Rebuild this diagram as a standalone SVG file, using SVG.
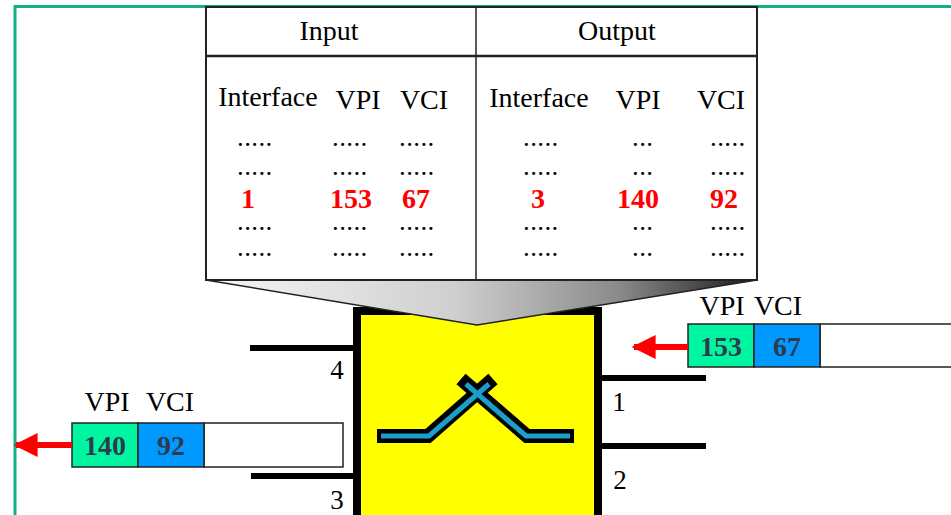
<svg xmlns="http://www.w3.org/2000/svg" width="951" height="515" viewBox="0 0 951 515">
<style>
.t{font-family:"Liberation Serif","Times New Roman",serif;fill:#000}
.h{font-size:28px}
.d{font-size:19px;font-weight:bold;letter-spacing:2.4px}
.r{font-size:28px;font-weight:bold;fill:#ff0000}
.c{font-size:28px;font-weight:bold;fill:#2e3b4e}
.p{font-size:27px}
.port{stroke:#000;stroke-width:6}
</style>
<defs>
<linearGradient id="fg" x1="0" y1="0" x2="1" y2="0">
<stop offset="0" stop-color="#f6f6f6"/>
<stop offset="0.45" stop-color="#cfcfcf"/>
<stop offset="0.75" stop-color="#8a8a8a"/>
<stop offset="1" stop-color="#1a1a1a"/>
</linearGradient>
<marker id="ah" viewBox="0 0 10 10" refX="9" refY="5" markerWidth="4" markerHeight="4.5" orient="auto-start-reverse" markerUnits="strokeWidth">
<path d="M0,0 L10,5 L0,10 z" fill="#ff0000"/>
</marker>
</defs>
<rect width="951" height="515" fill="#fff"/>
<path d="M15,515 V6.5 H951" fill="none" stroke="#10b088" stroke-width="3"/>

<g id="switch">
<rect x="357" y="311" width="241" height="212" fill="#ffff00" stroke="#000" stroke-width="8"/>
<g fill="none" stroke-linejoin="miter" stroke-linecap="butt">
<polyline points="377,436 428,436 493,379" stroke="#000" stroke-width="14"/>
<polyline points="574,436 527,436 461,379" stroke="#000" stroke-width="14"/>
<polyline points="381,436 429,436 489,384" stroke="#1a9fc8" stroke-width="5"/>
<polyline points="570,436 526,436 466,384" stroke="#1a9fc8" stroke-width="5"/>
</g>
</g>

<g id="table">
<polygon points="206,280 757,280 477,325" fill="url(#fg)" stroke="#222" stroke-width="1.5" stroke-linejoin="round"/>
<rect x="206" y="7" width="551" height="273" fill="#fff" stroke="#222" stroke-width="2"/>
<line x1="206" y1="56" x2="757" y2="56" stroke="#222" stroke-width="2.5"/>
<line x1="476" y1="7" x2="476" y2="280" stroke="#222" stroke-width="1.5"/>
<text class="t h" x="329" y="40" text-anchor="middle">Input</text>
<text class="t h" x="617" y="40" text-anchor="middle">Output</text>
<text class="t h" x="268" y="106" text-anchor="middle">Interface</text>
<text class="t h" x="358" y="109" text-anchor="middle">VPI</text>
<text class="t h" x="424" y="109" text-anchor="middle">VCI</text>
<text class="t h" x="539" y="107" text-anchor="middle">Interface</text>
<text class="t h" x="638" y="109" text-anchor="middle">VPI</text>
<text class="t h" x="721" y="109" text-anchor="middle">VCI</text>
<g class="t d">
<text x="238" y="146">.....</text><text x="333" y="146">.....</text><text x="400" y="146">.....</text>
<text x="524" y="146">.....</text><text x="633" y="146">...</text><text x="711" y="146">.....</text>
<text x="238" y="175">.....</text><text x="333" y="175">.....</text><text x="400" y="175">.....</text>
<text x="524" y="175">.....</text><text x="633" y="175">...</text><text x="711" y="175">.....</text>
<text x="238" y="230">.....</text><text x="333" y="230">.....</text><text x="400" y="230">.....</text>
<text x="524" y="230">.....</text><text x="633" y="230">...</text><text x="711" y="230">.....</text>
<text x="238" y="256">.....</text><text x="333" y="256">.....</text><text x="400" y="256">.....</text>
<text x="524" y="256">.....</text><text x="633" y="256">...</text><text x="711" y="256">.....</text>
</g>
<text class="t r" x="248" y="208" text-anchor="middle">1</text>
<text class="t r" x="351" y="208" text-anchor="middle">153</text>
<text class="t r" x="416" y="208" text-anchor="middle">67</text>
<text class="t r" x="538" y="208" text-anchor="middle">3</text>
<text class="t r" x="638" y="208" text-anchor="middle">140</text>
<text class="t r" x="724" y="208" text-anchor="middle">92</text>
</g>

<g id="ports">
<line class="port" x1="250" y1="348" x2="357" y2="348"/>
<line class="port" x1="251" y1="476" x2="357" y2="476"/>
<line class="port" x1="598" y1="378" x2="706" y2="378"/>
<line class="port" x1="598" y1="446" x2="706" y2="446"/>
<text class="t p" x="337" y="379" text-anchor="middle">4</text>
<text class="t p" x="337" y="509" text-anchor="middle">3</text>
<text class="t p" x="619" y="411" text-anchor="middle">1</text>
<text class="t p" x="620" y="489" text-anchor="middle">2</text>
</g>

<g id="cell-in">
<text class="t h" x="722" y="315" text-anchor="middle">VPI</text>
<text class="t h" x="778" y="315" text-anchor="middle">VCI</text>
<rect x="820" y="324" width="140" height="43" fill="#fff" stroke="#222" stroke-width="1.5"/>
<rect x="688" y="324" width="66" height="43" fill="#00f5a0" stroke="#222" stroke-width="1.5"/>
<rect x="754" y="324" width="66" height="43" fill="#0099ff" stroke="#222" stroke-width="1.5"/>
<text class="t c" x="721" y="356" text-anchor="middle">153</text>
<text class="t c" x="787" y="356" text-anchor="middle">67</text>
</g>

<g id="cell-out">
<text class="t h" x="107" y="411" text-anchor="middle">VPI</text>
<text class="t h" x="170" y="411" text-anchor="middle">VCI</text>
<rect x="204" y="423" width="139" height="44" fill="#fff" stroke="#222" stroke-width="1.5"/>
<rect x="72" y="423" width="66" height="44" fill="#00f5a0" stroke="#222" stroke-width="1.5"/>
<rect x="138" y="423" width="66" height="44" fill="#0099ff" stroke="#222" stroke-width="1.5"/>
<text class="t c" x="105" y="455" text-anchor="middle">140</text>
<text class="t c" x="171" y="455" text-anchor="middle">92</text>
</g>

<g id="connectors">
<line x1="688" y1="347" x2="634" y2="347" stroke="#ff0000" stroke-width="6" marker-end="url(#ah)"/>
<line x1="72" y1="445" x2="16" y2="445" stroke="#ff0000" stroke-width="6" marker-end="url(#ah)"/>
</g>
</svg>
